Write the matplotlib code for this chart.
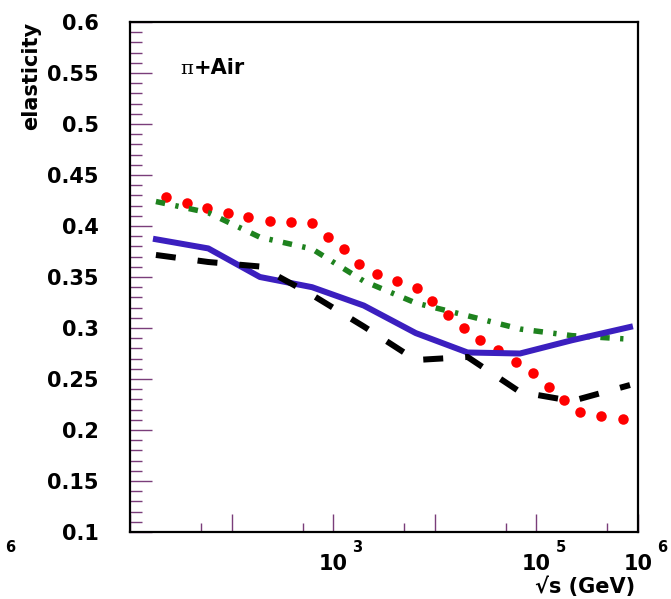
import matplotlib
matplotlib.use("Agg")
import matplotlib.pyplot as plt
import matplotlib.transforms as mtransforms

# sqrt(s) grid (GeV) shared by the three line models
sqrt_s_grid = [18, 59, 190, 620, 2000, 6500, 21000, 69000, 224000, 834000]
elast_solid = [0.387, 0.378, 0.350, 0.340, 0.322, 0.295, 0.276, 0.275, 0.288, 0.301]
elast_dashdot = [0.424, 0.413, 0.389, 0.3775, 0.346, 0.3245, 0.312, 0.299, 0.2925, 0.289]
elast_dashed = [0.3716, 0.3647, 0.3603, 0.3324, 0.3015, 0.2686, 0.2716, 0.2373, 0.2284, 0.2441]

# dotted (red) model
sqrt_s_dots = [22.6, 36.4, 57.3, 92.2, 145, 239, 385, 618, 889, 1280, 1800, 2700,
               4250, 6680, 9380, 13500, 19400, 27900, 41900, 63000, 92700, 133000,
               187000, 269000, 433000, 711000]
elast_dots = [0.428, 0.423, 0.418, 0.413, 0.409, 0.405, 0.404, 0.403, 0.389, 0.377,
              0.363, 0.353, 0.346, 0.339, 0.326, 0.313, 0.300, 0.288, 0.278, 0.267,
              0.256, 0.242, 0.229, 0.218, 0.214, 0.211]

y_ticks = [0.1, 0.15, 0.2, 0.25, 0.3, 0.35, 0.4, 0.45, 0.5, 0.55, 0.6]
y_tick_labels = ["0.1", "0.15", "0.2", "0.25", "0.3", "0.35", "0.4", "0.45", "0.5", "0.55", "0.6"]
x_major = [1e1, 1e2, 1e3, 1e4, 1e5, 1e6]
x_minor = [5e1, 5e2, 5e3, 5e4, 5e5]
x_labelled = [(1e3, "3"), (1e5, "5"), (1e6, "6")]

W, H = 671, 599
fig = plt.figure(figsize=(W / 100, H / 100), dpi=100)
ax = fig.add_axes([130 / W, 1 - 532 / H, (638 - 130) / W, (532 - 22) / H])

px = 72 / 100  # points per pixel

ax.plot(sqrt_s_dots, elast_dots, linestyle="none", marker="o", markersize=10.5 * px,
        color="#ff0000", markeredgewidth=0, zorder=2)
ax.plot(sqrt_s_grid, elast_dashdot, color="#1e821e", lw=5.5 * px,
        dashes=(1.7, 1.9, 0.6, 1.9), dash_capstyle="butt", zorder=3)
ax.plot(sqrt_s_grid, elast_solid, color="#3b1fbf", lw=6 * px, zorder=4,
        solid_joinstyle="round")
ax.plot(sqrt_s_grid, elast_dashed, color="black", lw=6 * px,
        dashes=(3.33, 3.67), dash_capstyle="butt", zorder=5)

ax.set_xscale("log")
ax.set_xlim(10, 1e6)
ax.set_ylim(0.1, 0.6)

tick_col = "#7a3d7a"
ax.set_xticks(x_major)
ax.set_xticks(x_minor, minor=True)
ax.set_xticklabels([])
ax.set_xticklabels([], minor=True)
ax.set_yticks(y_ticks)
ax.set_yticks([0.1 + 0.01 * i for i in range(51)], minor=True)
ax.set_yticklabels(y_tick_labels, fontsize=15, fontweight="bold", family="DejaVu Sans")
ax.tick_params(axis="both", which="both", direction="in", color=tick_col, width=1.0,
               top=False, right=False)
ax.tick_params(axis="y", which="major", length=22 * px, pad=31 * px)
ax.tick_params(axis="y", which="minor", length=12 * px)
ax.tick_params(axis="x", which="major", length=18 * px)
ax.tick_params(axis="x", which="minor", length=9 * px)
for s in ax.spines.values():
    s.set_linewidth(1.6)
    s.set_color("black")

# log-axis labels: "10" centred on the tick, exponent raised to its right
blend = mtransforms.blended_transform_factory(ax.transData, fig.transFigure)
for xv, ex in x_labelled:
    ax.text(xv, 1 - 570 / H, "10", transform=blend, ha="center", va="baseline",
            fontsize=15, fontweight="bold", clip_on=False)
    off = mtransforms.offset_copy(blend, fig=fig, x=19, y=0, units="dots")
    ax.text(xv, 1 - 552 / H, ex, transform=off, ha="left", va="baseline",
            fontsize=10.5, fontweight="bold", clip_on=False)

fig.text(5 / W, 1 - 552 / H, "6", ha="left", va="baseline", fontsize=10.5,
         fontweight="bold")

fig.text(635 / W, 1 - 597 / H, "\u221as (GeV)", ha="right", va="bottom",
         fontsize=15, fontweight="bold")
fig.text(31 / W, 1 - 22 / H, "elasticity", rotation=90, ha="center", va="top",
         fontsize=15, fontweight="bold")

fig.text(180 / W, 1 - 73.5 / H, "\u03c0", ha="left", va="baseline", fontsize=14,
         family="DejaVu Serif")
fig.text(194 / W, 1 - 73.5 / H, "+Air", ha="left", va="baseline", fontsize=15,
         fontweight="bold")

fig.savefig("out.png", dpi=100)
